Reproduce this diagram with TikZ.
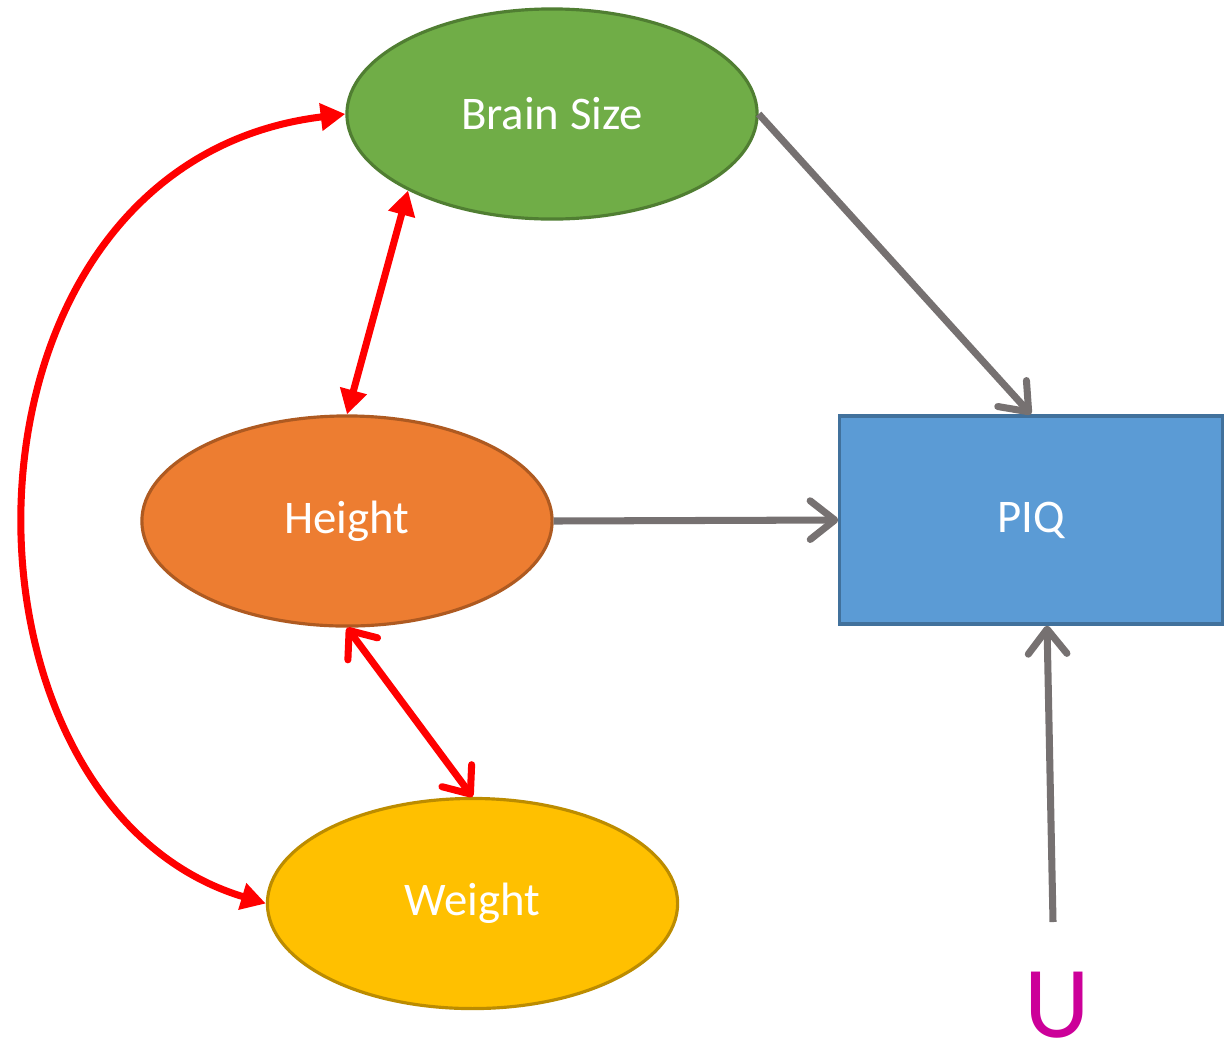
\documentclass[tikz,border=0pt]{standalone}
\usepackage{fontspec}
\setmainfont{Carlito}
\usetikzlibrary{shapes.geometric,arrows.meta}
\definecolor{leafgreen}{HTML}{70AD47}
\definecolor{leafgreenline}{HTML}{507E32}
\definecolor{orangefill}{HTML}{ED7D31}
\definecolor{orangeline}{HTML}{AE5A21}
\definecolor{goldfill}{HTML}{FFC000}
\definecolor{goldline}{HTML}{BC8C00}
\definecolor{bluefill}{HTML}{5B9BD5}
\definecolor{blueline}{HTML}{41719C}
\definecolor{linkgray}{HTML}{767171}
\definecolor{umagenta}{HTML}{CC0099}
\tikzset{
  varnode/.style={ellipse, line width=0.9pt, minimum width=4.1cm, minimum height=2.1cm,
    inner sep=0pt, text=white, font=\fontsize{13.3}{16}\selectfont},
  outbox/.style={rectangle, line width=0.9pt, minimum width=3.82cm, minimum height=2.08cm,
    inner sep=0pt, text=white, font=\fontsize{13.3}{16}\selectfont},
  corr/.style={draw=red, line width=2pt},
  solidtips/.style={{Triangle[length=7pt,width=7.5pt]}-{Triangle[length=7pt,width=7.5pt]}},
  barbtips/.style={{Straight Barb[length=6.5pt,width=10.5pt,round]}-{Straight Barb[length=6.5pt,width=10.5pt,round]}},
  effect/.style={draw=linkgray, line width=2pt, -{Straight Barb[length=7pt,width=11pt,round]}},
}
\begin{document}
\begin{tikzpicture}[x=0.01cm, y=-0.01cm]
  \useasboundingbox (0,0) rectangle (1228,1045);

  % variables
  \node[varnode, fill=leafgreen, draw=leafgreenline] (brain) at (552,114) {Brain Size};
  \node[varnode, fill=orangefill, draw=orangeline] (height) at (347,521) {Height};
  \node[varnode, fill=goldfill, draw=goldline] (weight) at (472.5,903.5) {Weight};
  \node[outbox, fill=bluefill, draw=blueline] (piq) at (1031,520) {PIQ};

  % unobserved term
  \node[text=umagenta, font=\fontsize{29}{34}\selectfont, inner sep=0pt] (u) at (1057,1005) {U};
  \coordinate (ubase) at (1053,922);

  % correlations among the predictors
  \draw[corr, solidtips] (brain.208) -- (height.north);
  \draw[corr, line cap=round, barbtips] (height.south) -- (weight.north);
  \draw[corr, solidtips] (brain.west) .. controls +(-410,50) and +(-332,-100) .. (weight.west);

  % effects on PIQ
  \draw[effect] (brain.east) -- (piq.north);
  \draw[effect] (height.east) -- (piq.west);
  \draw[effect] (ubase) -- ([xshift=0.16cm]piq.south);
\end{tikzpicture}
\end{document}
